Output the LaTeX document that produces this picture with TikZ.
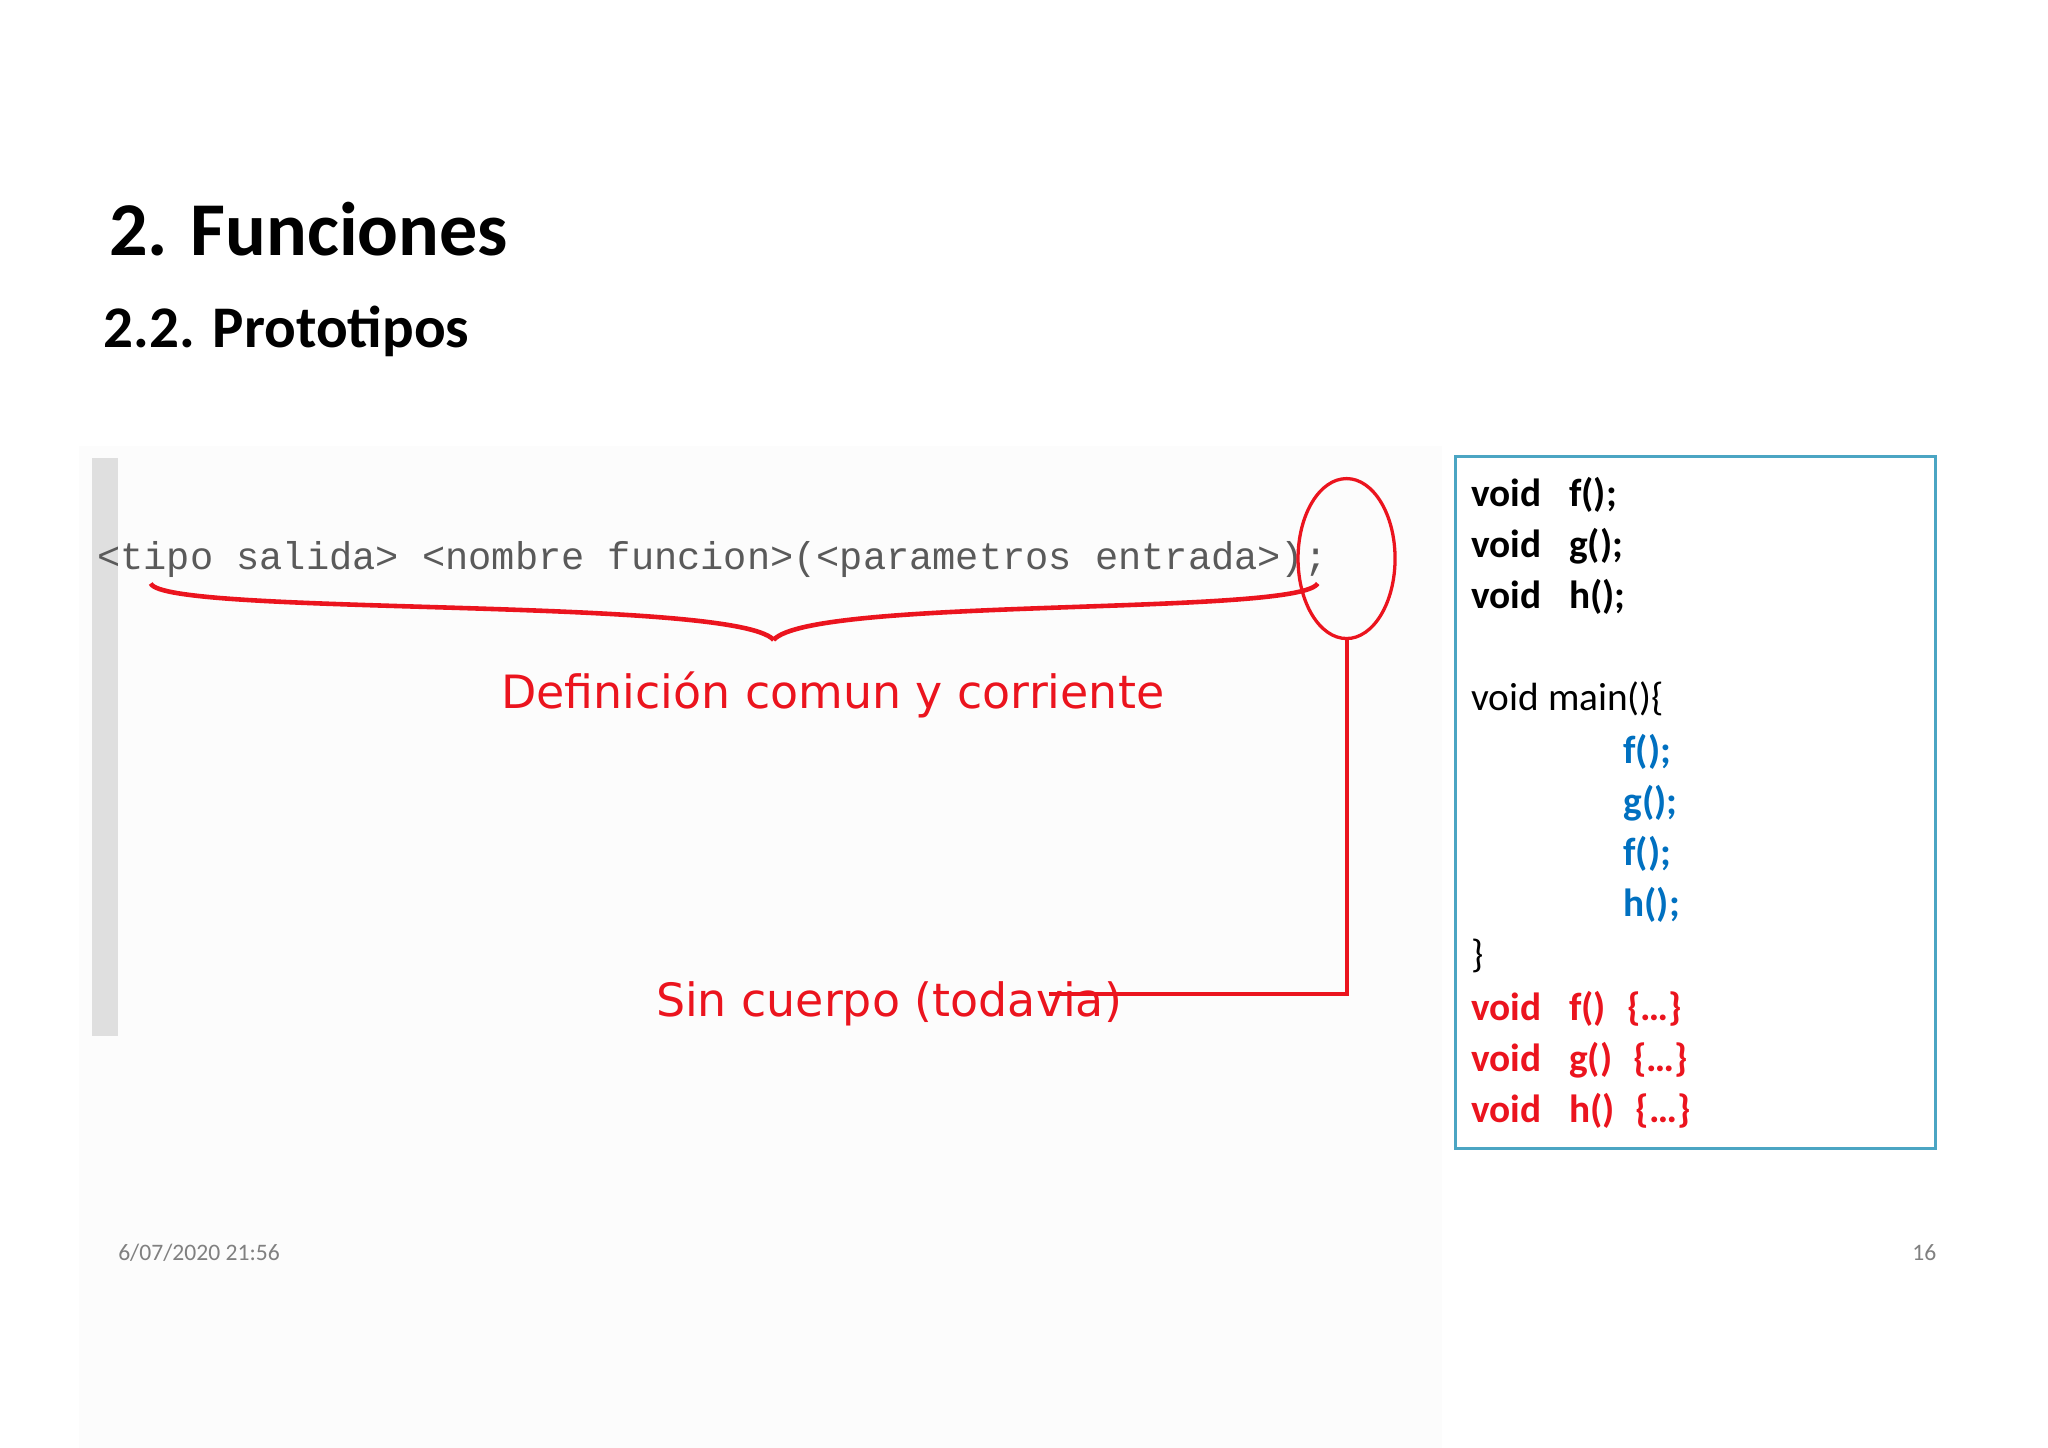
\documentclass[tikz,border=0pt]{standalone}
\usepackage{fontspec}
\setmainfont{Carlito}
\newfontfamily\monof{Liberation Mono}
\newfontfamily\handf{DejaVu Sans}
\definecolor{myred}{RGB}{235,20,30}
\definecolor{myblue}{RGB}{0,112,192}
\definecolor{boxc}{RGB}{75,165,195}
\definecolor{codeg}{RGB}{90,90,90}
\begin{document}
\begin{tikzpicture}[x=1pt,y=-1pt,
  code/.style={anchor=base west,inner sep=0pt,font=\fontsize{30}{36}\selectfont},
  lbl/.style={anchor=base,inner sep=0pt,text=myred,font=\handf\fontsize{35}{40}\selectfont}]
\useasboundingbox[fill=white] (0,0) rectangle (1562,1104);
\fill[gray!2] (60,340) rectangle (1100,1104);
\node[anchor=base west,inner sep=0pt,font=\bfseries\fontsize{58}{64}\selectfont] (t1) at (83,195) {2. Funciones};
\node[anchor=base west,inner sep=0pt,font=\bfseries\fontsize{45}{50}\selectfont] (t2) at (79,265) {2.2. Prototipos};
\fill[gray!25] (70,349) rectangle (90,790);
\node[anchor=base west,inner sep=0pt,text=codeg,font=\monof\fontsize{29.5}{32}\selectfont] (code) at (74,434) {<tipo salida> <nombre funcion>(<parametros entrada>);};
\draw[myred,line width=3.5pt] (115,445) .. controls (125,470) and (560,455) .. (590,488)
  (590,488) .. controls (620,455) and (990,470) .. (1005,445);
\draw[myred,line width=2.5pt] (1027,426) ellipse [x radius=37,y radius=61];
\coordinate (e) at (1027,487);
\coordinate (c) at (1027,758);
\coordinate (d) at (800,758);
\draw[myred,line width=3pt] (e) -- (c) -- (d);
\node[lbl] (def) at (635,540) {Definición comun y corriente};
\node[lbl] (sin) at (678,775) {Sin cuerpo (todavia)};
\draw[boxc,line width=2.5pt] (1110,348) rectangle (1476,876);
\node[code,font=\bfseries\fontsize{30}{36}\selectfont] at (1122,386) {void\hspace{21pt}f();};
\node[code,font=\bfseries\fontsize{30}{36}\selectfont] at (1122,425) {void\hspace{21pt}g();};
\node[code,font=\bfseries\fontsize{30}{36}\selectfont] at (1122,464) {void\hspace{21pt}h();};
\node[code] at (1122,542) {void main()\{};
\node[code,text=myblue,font=\bfseries\fontsize{30}{36}\selectfont] at (1238,582) {f();};
\node[code,text=myblue,font=\bfseries\fontsize{30}{36}\selectfont] at (1238,621) {g();};
\node[code,text=myblue,font=\bfseries\fontsize{30}{36}\selectfont] at (1238,660) {f();};
\node[code,text=myblue,font=\bfseries\fontsize{30}{36}\selectfont] at (1238,699) {h();};
\node[code] at (1122,738) {\}};
\node[code,text=myred,font=\bfseries\fontsize{30}{36}\selectfont] at (1122,778) {void\hspace{21pt}f()\hspace{16pt}\{…\}};
\node[code,text=myred,font=\bfseries\fontsize{30}{36}\selectfont] at (1122,817) {void\hspace{21pt}g()\hspace{16pt}\{…\}};
\node[code,text=myred,font=\bfseries\fontsize{30}{36}\selectfont] at (1122,856) {void\hspace{21pt}h()\hspace{16pt}\{…\}};
\node[anchor=base west,inner sep=0pt,text=gray,font=\fontsize{18}{20}\selectfont] (date) at (90,961) {6/07/2020 21:56};
\node[anchor=base east,inner sep=0pt,text=gray,font=\fontsize{18}{20}\selectfont] (pg) at (1477,961) {16};
\end{tikzpicture}
\end{document}
